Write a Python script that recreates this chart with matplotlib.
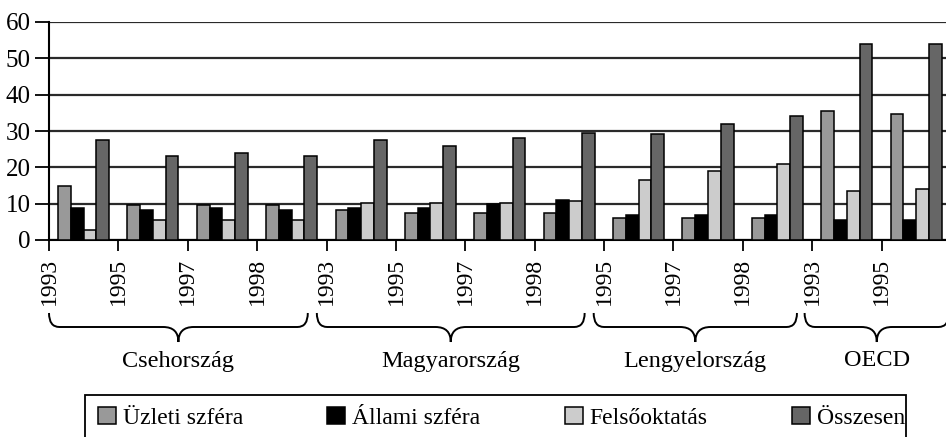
import matplotlib
matplotlib.use("Agg")
import matplotlib.pyplot as plt
from matplotlib.patches import Patch, Rectangle, PathPatch
from matplotlib.path import Path
from matplotlib.transforms import blended_transform_factory
import numpy as np

plt.rcParams["font.family"] = ["Liberation Serif", "DejaVu Serif"]

years = ["1993", "1995", "1997", "1998",
         "1993", "1995", "1997", "1998",
         "1995", "1997", "1998",
         "1993", "1995"]
countries = ["Csehország", "Magyarország", "Lengyelország", "OECD"]

series = ["Üzleti szféra", "Állami szféra", "Felsőoktatás", "Összesen"]
uzleti = [15.0, 9.7, 9.7, 9.7, 8.2, 7.5, 7.5, 7.5, 6.0, 6.0, 6.0, 35.5, 34.7]
allami = [8.9, 8.3, 8.9, 8.3, 8.9, 8.9, 9.9, 10.9, 6.9, 6.9, 6.9, 5.5, 5.5]
felso = [2.8, 5.5, 5.5, 5.5, 10.3, 10.3, 10.2, 10.6, 16.4, 18.9, 21.0, 13.4, 14.1]
osszes = [27.4, 23.2, 23.9, 23.2, 27.4, 26.0, 28.1, 29.4, 29.3, 32.0, 34.1, 53.9, 53.9]
colors = ["#999999", "#000000", "#cccccc", "#666666"]

W, H = 946, 437
fig = plt.figure(figsize=(W / 100, H / 100), dpi=100)
ax = fig.add_axes([49 / W, (H - 240) / H, (951 - 49) / W, (240 - 22) / H])

n = len(years)
bw = 0.184
start = 0.13
for j, vals in enumerate([uzleti, allami, felso, osszes]):
    xs = np.arange(n) + start + bw * (j + 0.5)
    ax.bar(xs, vals, width=bw, color=colors[j], edgecolor="black",
           linewidth=1.1, zorder=3)

ax.set_xlim(0, n)
ax.set_ylim(0, 60)
ax.set_yticks(range(0, 61, 10))
ax.yaxis.grid(True, color="#2a2a2a", linewidth=1.6, zorder=1)
ax.set_axisbelow(True)
ax.set_xticks(np.arange(n + 1))
ax.set_xticklabels(years + [""], rotation=90, fontsize=17)
ax.tick_params(axis="x", length=8, width=1.3, pad=5, direction="out")
ax.tick_params(axis="y", length=10, width=1.3, pad=3, labelsize=18)
for s in ["top", "right"]:
    ax.spines[s].set_visible(False)
ax.spines["left"].set_linewidth(1.5)
ax.spines["bottom"].set_linewidth(1.5)

# curly braces under the year labels
tr = blended_transform_factory(ax.transData, fig.transFigure)
def fy(py):
    return (H - py) / H

y_top, y_mid, y_tip = fy(313), fy(327), fy(342)
brace_ranges = [(0.0, 3.73), (3.86, 7.72), (7.85, 10.78), (10.89, 12.97)]
r_end, r_mid = 0.15, 0.22
for (x0, x1), name in zip(brace_ranges, countries):
    xc = (x0 + x1) / 2
    verts = [(x0, y_top), (x0, y_mid), (x0 + r_end, y_mid),
             (xc - r_mid, y_mid), (xc, y_mid), (xc, y_tip),
             (xc, y_mid), (xc + r_mid, y_mid),
             (x1 - r_end, y_mid), (x1, y_mid), (x1, y_top)]
    codes = [Path.MOVETO, Path.CURVE3, Path.CURVE3,
             Path.LINETO, Path.CURVE3, Path.CURVE3,
             Path.CURVE3, Path.CURVE3,
             Path.LINETO, Path.CURVE3, Path.CURVE3]
    ax.add_patch(PathPatch(Path(verts, codes), transform=tr, fill=False,
                           edgecolor="black", linewidth=1.4, clip_on=False))
    ax.text(xc, fy(361), name, transform=tr, ha="center", va="center",
            fontsize=17.5)

# legend with a box cut off at the bottom
fig.patches.append(Rectangle((85 / W, fy(450)), (906 - 85) / W, (450 - 395) / H,
                             transform=fig.transFigure, fill=False,
                             edgecolor="black", linewidth=1.3))
handles = [Patch(facecolor=c, edgecolor="black", linewidth=1.1) for c in colors]
fig.legend(handles, series, loc="center", ncol=4, mode="expand",
           bbox_to_anchor=(98 / W, fy(430), (905 - 98) / W, 24 / H),
           frameon=False, fontsize=17, handlelength=0.75, handleheight=0.75,
           handletextpad=0.3, borderpad=0, borderaxespad=0)

fig.savefig("out.png", dpi=100)
